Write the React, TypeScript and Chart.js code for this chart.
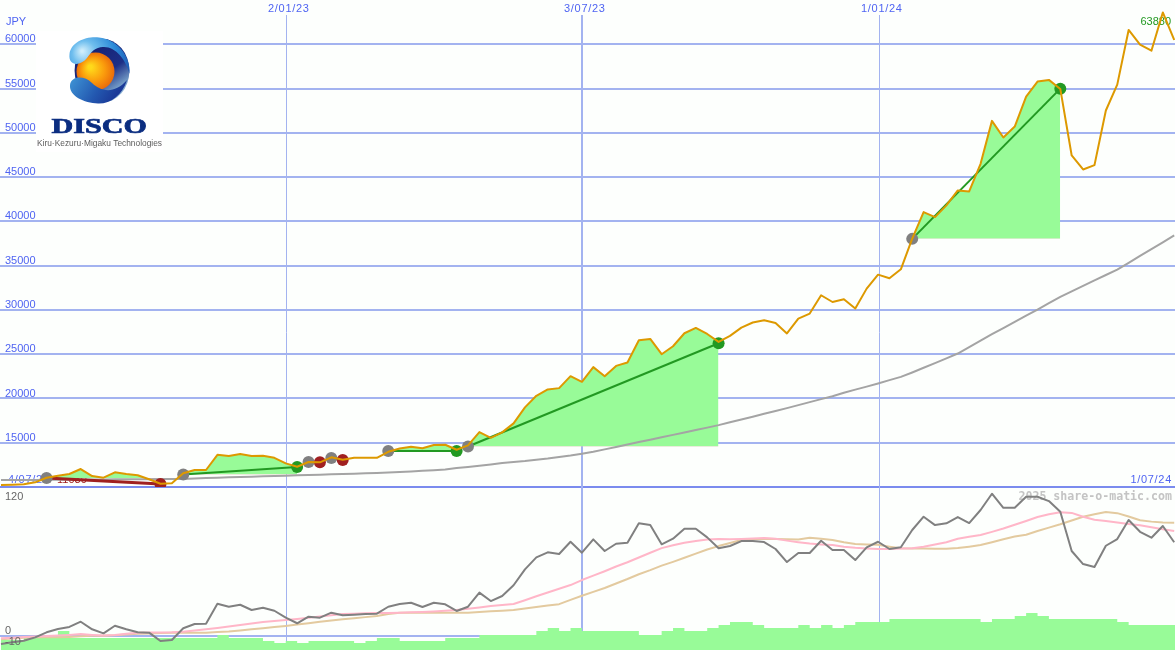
import React, { useEffect, useRef } from "react";
import { Chart, registerables } from "chart.js";

Chart.register(...registerables);

const priceValues = [10230,10260,10300,10530,11050,11270,11470,12030,11240,11050,11660,11470,11320,10870,10370,10420,11550,11920,11920,13640,13500,13720,13500,13530,13300,12670,12290,12820,12790,13350,13080,13300,13300,13300,13980,14340,14550,14370,14740,14770,14210,14700,16200,15560,16170,17190,18990,20300,21020,21170,22520,21880,23540,22520,23680,24070,26580,26730,25000,25900,27370,27970,27290,26390,27070,28010,28580,28840,28530,27350,29030,29590,31660,30900,31210,30160,32410,33990,33580,34590,38050,41050,40490,41810,43500,43390,46510,51360,49480,50720,54100,55800,55990,54970,47450,45870,46360,52530,55460,61630,59970,59290,63610,60500];
const longAverage = [10790,10790,10790,10790,10810,10820,10830,10850,10850,10860,10870,10870,10880,10880,10890,10900,10900,10960,11020,11050,11090,11130,11160,11210,11240,11270,11320,11350,11390,11430,11470,11510,11550,11590,11640,11690,11760,11830,11900,11970,12140,12260,12390,12540,12710,12820,12930,13070,13210,13380,13550,13760,13980,14250,14510,14790,15080,15340,15610,15890,16160,16430,16710,16990,17310,17630,17940,18270,18580,18910,19250,19590,19930,20260,20640,21000,21340,21700,22070,22440,22940,23470,24000,24530,25080,25790,26530,27260,27960,28660,29350,30050,30760,31470,32110,32730,33350,33950,34560,35320,36110,36880,37640,38430];
const oscillator = [-7.2,-5.6,-4.2,-1.2,3.3,6.3,8.1,12.8,6,2.4,9.2,6,3.3,3,-4.5,-3.6,6.9,10.7,11,28.9,26.2,28,23.3,25.3,22.6,16.4,11.4,17.3,16.4,20.9,18.5,19.1,19.7,20,26.2,28.6,29.8,26,29.8,28.4,22.4,26.2,38.8,31.3,35.8,45.4,59.7,70.4,74.9,73.4,84.4,74.6,86.5,76.1,82.6,83.5,100.9,99.3,82.1,87.1,96,96,88.3,78.5,80.6,85,85,84.1,77.9,66.2,74.3,74.3,85.3,77,77,68,79.4,84.4,77.9,79.4,94.9,106.8,99.3,100.9,106.5,101.1,112.8,127.4,114.8,114.8,124.7,124.7,120.8,111.2,76.1,64.4,61.8,80.8,86.8,103.8,93.3,88,98.5,83.9];
const pinkAverage = [-2.1,-1.6,-1,-0.5,0,0.5,1,1.7,1,0.5,1,2,2.9,3.1,3.2,3.3,3.8,4.9,6,7.2,8.5,9.8,11.2,12.5,13.4,14.3,15.3,16.3,17.4,18.5,19.7,20,20.3,20.6,20.7,20.9,21.2,21.5,22,22.7,23.3,24.5,25.6,26.8,27.7,28.6,32,35.6,39,42.3,45.6,50.1,54,58,62.2,66,70.3,74.5,78.7,81.2,83.5,85,86.3,86.8,86.6,86.8,87.2,87.7,87,85.4,84,82.8,82,81.4,80,79,78.4,77.9,78,78.3,78.5,80,82,84,87,88.8,90.4,93.2,96.2,99.6,103,106.5,109,110.7,110.2,106.8,104,103,101.7,100.3,99.1,97.3,95.6,94];
const tanAverage = [-3,-2.3,-1.6,-1.2,-1.2,-1.2,-1,-0.2,0.3,0.3,0.7,1.4,2,2.3,2.6,3,3,3,3,3.5,4,5,6,7,8,9,10.2,11.4,12.7,13.8,14.9,16,16.9,17.9,19.7,20.9,20.9,20.9,20.9,20.9,20.9,20.9,21.5,22.1,22.7,23.3,24.6,25.9,27.3,28.5,32.3,36,39.5,43,47,51,55.3,59,63,66.4,70,73.8,77.4,80.5,83.3,86,86.6,87.1,86.9,86.7,86.5,88,87,86,84,82.4,82,81.7,80,78.5,78.4,78.3,78.2,78.1,78.8,80,81.4,84,86.6,89,90.7,94,97,100,103.4,106.8,109,111,110,107,103.6,102.4,101.6,101.4];
const volumeValues = [10,10,10,12,13,13,19,12,12,12,12,12,12,12,12,12,12,12,12,12,15,12,12,12,9,7,9,7,9,9,9,9,7,9,12,12,9,9,9,9,12,12,12,15,15,15,15,15,19,22,19,22,19,19,19,19,19,15,15,19,22,19,19,22,25,28,28,25,22,22,22,25,22,25,22,25,28,28,28,31,31,31,31,31,31,31,31,28,31,31,34,37,34,31,31,31,31,31,31,28,25,25,25,25];

const tradeStart = [4, 16, 34, 41, 80];
const tradeEnd = [14, 26, 40, 63, 93];
const tradeEntry = [11020, 11400, 14060, 14570, 38030];
const tradeExit = [10340, 12260, 14060, 26240, 55000];
const tradeWon = [false, true, true, true, true];
const extraEntryWeeks = [27, 29];
const extraEntryPrices = [12820, 13270];
const extraExitWeeks = [28, 30];
const extraExitPrices = [12790, 13050];

const dateWeeks = [25, 51, 77.1];
const dateLabels = ["2/01/23", "3/07/23", "1/01/24"];
const dateWidths = [1, 2, 1];
const priceTicks = [10000, 15000, 20000, 25000, 30000, 35000, 40000, 45000, 50000, 55000, 60000];
const oscTicks = [-10, 0, 120];

const GREEN = "#98FB98";
const PINK = "#FFB6C8";
const BLUE_TEXT = "#4F64F2";
const LABEL_FONT = '11px "Liberation Sans"';
const OSC_MIN = -12.53;
const VOLUME_UNIT = 0.895;

const seq = (a: number[]) => a.map((y, x) => ({ x, y }));
const flatten = (axis: any) => {
  axis.width = 0;
  axis.paddingTop = 0;
  axis.paddingBottom = 0;
  axis.paddingLeft = 0;
  axis.paddingRight = 0;
};

function drawLogo(ctx: CanvasRenderingContext2D) {
  ctx.save();
  ctx.fillStyle = "#FFFFFF";
  ctx.fillRect(36, 31, 127, 121);

  const bowl = ctx.createLinearGradient(85, 42, 125, 98);
  bowl.addColorStop(0, "#141F70");
  bowl.addColorStop(0.55, "#1D2F86");
  bowl.addColorStop(0.8, "#6F97C4");
  bowl.addColorStop(1, "#A8CBE2");
  ctx.fillStyle = bowl;
  ctx.beginPath();
  ctx.ellipse(102, 70.7, 27.4, 32, 0, 0, Math.PI * 2);
  ctx.fill();

  const orange = ctx.createRadialGradient(90, 67, 2, 95.7, 71.5, 20);
  orange.addColorStop(0, "#FFD91A");
  orange.addColorStop(0.55, "#FA9A0C");
  orange.addColorStop(1, "#E8660A");
  ctx.fillStyle = orange;
  ctx.beginPath();
  ctx.arc(95.5, 71.5, 19, 0, Math.PI * 2);
  ctx.fill();

  const lower = ctx.createLinearGradient(72, 80, 110, 104);
  lower.addColorStop(0, "#3C8FD2");
  lower.addColorStop(0.6, "#2358B0");
  lower.addColorStop(1, "#1B3A98");
  ctx.fillStyle = lower;
  ctx.beginPath();
  ctx.moveTo(70, 85);
  ctx.bezierCurveTo(71, 76, 84, 75, 92, 83);
  ctx.bezierCurveTo(100, 91, 114, 95, 127, 80);
  ctx.bezierCurveTo(122, 96, 110, 104, 98, 103.5);
  ctx.bezierCurveTo(84, 103, 69, 96, 70, 85);
  ctx.closePath();
  ctx.fill();

  const upper = ctx.createRadialGradient(82, 51, 1, 90, 58, 40);
  upper.addColorStop(0, "#CFEDFB");
  upper.addColorStop(0.28, "#6FBEEE");
  upper.addColorStop(0.7, "#2C8AD8");
  upper.addColorStop(1, "#1F5CB4");
  ctx.fillStyle = upper;
  ctx.beginPath();
  ctx.moveTo(69.5, 54);
  ctx.bezierCurveTo(71, 42, 86, 36, 99, 37.5);
  ctx.bezierCurveTo(116, 39, 131, 55, 129.5, 74);
  ctx.bezierCurveTo(126, 60, 116, 47, 104, 47);
  ctx.bezierCurveTo(96, 46.5, 91, 52, 87, 58);
  ctx.bezierCurveTo(81, 66, 68, 67, 69.5, 54);
  ctx.closePath();
  ctx.fill();

  ctx.fillStyle = "#0B2D80";
  ctx.strokeStyle = "#0B2D80";
  ctx.lineWidth = 0.7;
  ctx.textAlign = "left";
  ctx.textBaseline = "alphabetic";
  ctx.font = 'bold 22px "Liberation Serif"';
  ctx.translate(51.5, 133.3);
  ctx.scale(1.37, 1);
  ctx.fillText("DISCO", 0, 0);
  ctx.strokeText("DISCO", 0, 0);
  ctx.restore();

  ctx.save();
  ctx.fillStyle = "#5C5C5C";
  ctx.font = '9px "Liberation Sans"';
  ctx.textBaseline = "middle";
  ctx.fillText("Kiru·Kezuru·Migaku Technologies", 37, 143.5, 125);
  ctx.restore();
}

const chartDecor = {
  id: "chartDecor",
  beforeDraw(chart: any) {
    const { ctx, width, height } = chart;
    ctx.save();
    ctx.fillStyle = "#FDFFFD";
    ctx.fillRect(0, 0, width, height);
    ctx.restore();
  },
  beforeDatasetsDraw(chart: any) {
    const { ctx, scales } = chart;
    ctx.save();
    dateWeeks.forEach((w, i) => {
      const px = Math.round(scales.x.getPixelForValue(w));
      ctx.strokeStyle = "#A3B3F0";
      ctx.lineWidth = dateWidths[i];
      ctx.beginPath();
      ctx.moveTo(px + (dateWidths[i] === 1 ? 0.5 : 0), 15);
      ctx.lineTo(px + (dateWidths[i] === 1 ? 0.5 : 0), 650);
      ctx.stroke();
      ctx.fillStyle = BLUE_TEXT;
      ctx.font = LABEL_FONT;
      ctx.textBaseline = "middle";
      ctx.textAlign = "left";
      (ctx as any).letterSpacing = "0.7px";
      ctx.fillText(dateLabels[i], px - 18, 9);
    });
    ctx.fillText("4/07/22", 8, 480);
    ctx.textAlign = "right";
    ctx.fillText("1/07/24", 1172, 480);
    (ctx as any).letterSpacing = "0px";
    ctx.textAlign = "left";
    ctx.fillText("JPY", 6, 22);
    ctx.fillStyle = "#A02020";
    ctx.fillText("11030", 57, 480);
    ctx.fillStyle = "#229922";
    ctx.textAlign = "right";
    ctx.fillText("63880", 1171, 22);
    ctx.fillStyle = "#C4C4C4";
    ctx.font = 'bold 11.6px "DejaVu Sans Mono"';
    ctx.fillText("2025 share-o-matic.com", 1172, 497);
    ctx.restore();
    drawLogo(ctx);
  },
};

export default function App() {
  const ref = useRef<HTMLCanvasElement>(null);
  useEffect(() => {
    document.body.style.margin = "0";
    const fills = tradeStart.map((s, i) => ({
      type: "line" as const,
      data: priceValues.slice(s, tradeEnd[i] + 1).map((y, k) => ({ x: s + k, y })),
      yAxisID: "y",
      borderWidth: 0,
      pointRadius: 0,
      tension: 0,
      fill: { target: { value: tradeEntry[i] }, above: GREEN, below: PINK },
      order: 60,
    }));
    const tradeLines = tradeStart.map((s, i) => ({
      type: "line" as const,
      data: [{ x: s, y: tradeEntry[i] }, { x: tradeEnd[i], y: tradeExit[i] }],
      yAxisID: "y",
      borderColor: tradeWon[i] ? "#229922" : "#A02020",
      borderWidth: tradeWon[i] ? 2 : 3,
      pointRadius: 0,
      fill: false,
      order: 30,
    }));
    const entries = [
      ...tradeStart.map((s, i) => ({ x: s, y: tradeEntry[i] })),
      ...extraEntryWeeks.map((x, i) => ({ x, y: extraEntryPrices[i] })),
    ];
    const winners = tradeEnd.map((x, i) => ({ x, y: tradeExit[i], won: tradeWon[i] })).filter((p) => p.won);
    const losers = [
      ...tradeEnd.map((x, i) => ({ x, y: tradeExit[i], won: tradeWon[i] })).filter((p) => !p.won),
      ...extraExitWeeks.map((x, i) => ({ x, y: extraExitPrices[i], won: false })),
    ];
    const dots = (data: any[], color: string, order: number) => ({
      type: "line" as const,
      data,
      yAxisID: "y",
      showLine: false,
      pointRadius: 6,
      pointBorderWidth: 0,
      pointBackgroundColor: color,
      fill: false,
      order,
    });
    const line = (data: number[], color: string, yAxisID: string, order: number, borderWidth = 2) => ({
      type: "line" as const,
      data: seq(data),
      yAxisID,
      borderColor: color,
      borderWidth,
      pointRadius: 0,
      tension: 0,
      fill: false,
      order,
    });
    const volumeScaled = [...volumeValues, volumeValues[volumeValues.length - 1]].map(
      (v) => OSC_MIN + v * VOLUME_UNIT
    );
    const chart = new Chart(ref.current!, {
      type: "line",
      data: {
        datasets: [
          ...fills,
          {
            type: "line" as const,
            data: seq(volumeScaled),
            yAxisID: "osc",
            stepped: "after",
            borderWidth: 0,
            pointRadius: 0,
            fill: "start",
            backgroundColor: GREEN,
            order: 55,
          },
          line(longAverage, "#A4A4A4", "y", 50),
          line(tanAverage, "#E3CA9F", "osc", 41),
          line(pinkAverage, PINK, "osc", 40),
          line(oscillator, "#808080", "osc", 38),
          ...tradeLines,
          dots(entries, "#808080", 22),
          dots(winners, "#229922", 21),
          dots(losers, "#A02020", 20),
          line(priceValues, "#DD9900", "y", 10),
        ] as any,
      },
      options: {
        responsive: false,
        animation: false,
        parsing: { xAxisKey: "x", yAxisKey: "y" },
        layout: { padding: 0, autoPadding: false },
        plugins: { legend: { display: false }, tooltip: { enabled: false } },
        elements: { line: { borderJoinStyle: "round" } },
        scales: {
          x: { type: "linear", min: -0.0878, max: 103.07, display: false },
          osc: {
            type: "linear",
            position: "left",
            stack: "panes",
            stackWeight: 163,
            min: OSC_MIN,
            max: 133.4,
            afterFit: flatten,
            afterBuildTicks: (axis: any) => {
              axis.ticks = oscTicks.map((value) => ({ value }));
            },
            border: { display: false },
            grid: {
              drawTicks: false,
              lineWidth: 2,
              color: (c: any) => (c.tick && c.tick.value === 0 ? "#A3B3F0" : "rgba(0,0,0,0)"),
            },
            ticks: {
              mirror: true,
              padding: 5,
              labelOffset: -5,
              autoSkip: false,
              z: 1,
              color: "#666666",
              font: { family: "Liberation Sans", size: 11 },
            },
          },
          y: {
            type: "linear",
            position: "left",
            stack: "panes",
            stackWeight: 487,
            min: 10000,
            max: 65015,
            afterFit: flatten,
            afterBuildTicks: (axis: any) => {
              axis.ticks = priceTicks.map((value) => ({ value }));
            },
            border: { display: false },
            grid: {
              drawTicks: false,
              lineWidth: 2,
              color: (c: any) => (c.tick && c.tick.value === 10000 ? "#7B8BEE" : "#A3B3F0"),
            },
            ticks: {
              mirror: true,
              padding: 5,
              labelOffset: -5,
              autoSkip: false,
              color: BLUE_TEXT,
              font: { family: "Liberation Sans", size: 11 },
              callback: (v: any) => (v === 10000 ? "" : String(v)),
            },
          },
        },
      },
      plugins: [chartDecor],
    } as any);
    return () => chart.destroy();
  }, []);
  return <canvas ref={ref} width={1175} height={650} style={{ display: "block" }} />;
}
